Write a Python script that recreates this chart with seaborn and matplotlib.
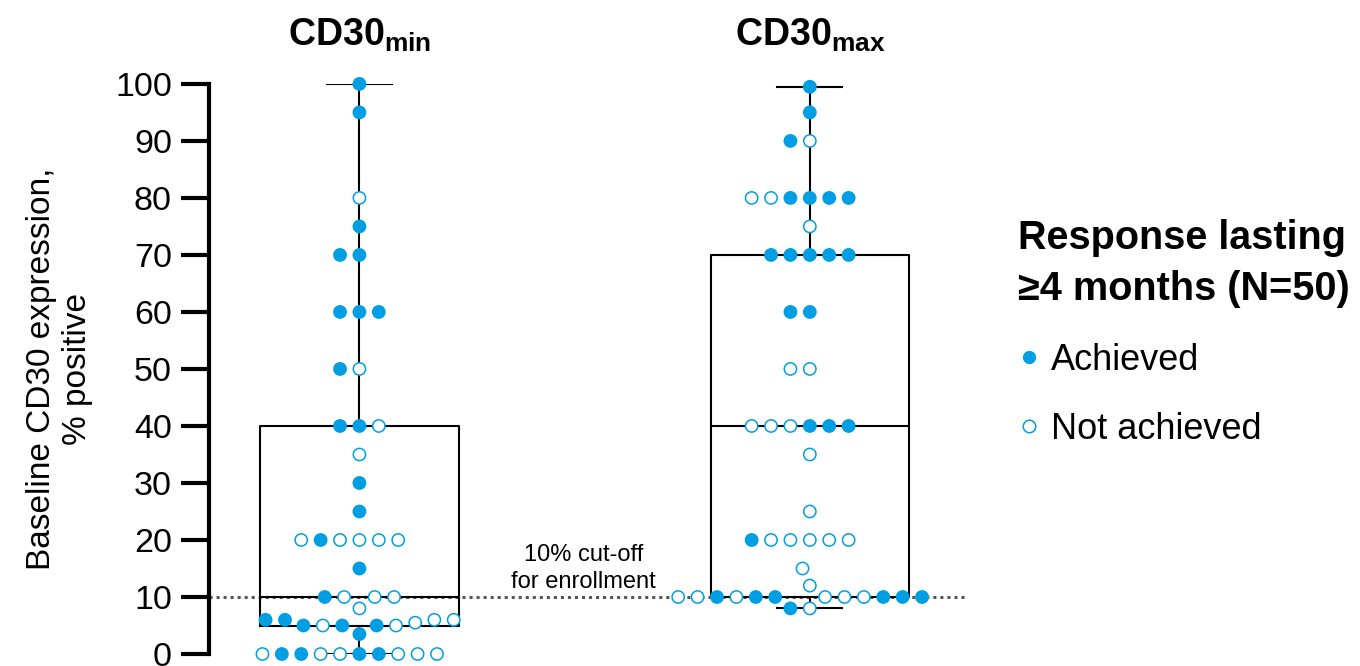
import pandas as pd
import matplotlib.pyplot as plt
from matplotlib.lines import Line2D
import seaborn as sns

# % CD30-positive cells per patient, and whether the response lasted >=4 months (1 = achieved)
min_pct = [100, 95, 80, 75, 70, 70, 60, 60, 60, 50, 50, 40, 40, 40, 35, 30, 25,
           20, 20, 20, 20, 20, 20, 15, 10, 10, 10, 10, 8, 6, 6, 6, 6, 5.5, 5, 5, 5, 5, 5,
           3.5, 0, 0, 0, 0, 0, 0, 0, 0, 0, 0]
min_achieved = [1, 1, 0, 1, 1, 1, 1, 1, 1, 0, 1, 1, 0, 1, 0, 1, 1,
                0, 0, 1, 0, 0, 0, 1, 0, 1, 0, 0, 0, 1, 1, 0, 0, 0, 1, 1, 1, 0, 0,
                1, 1, 0, 1, 0, 0, 1, 0, 0, 0, 1]

max_pct = [99.5, 95, 90, 90, 80, 80, 80, 80, 80, 80, 75, 70, 70, 70, 70, 70,
           60, 60, 50, 50, 40, 40, 40, 40, 40, 40, 35, 25, 20, 20, 20, 20, 20, 20,
           15, 12, 10, 10, 10, 10, 10, 10, 10, 10, 10, 10, 10, 10, 8, 8]
max_achieved = [1, 1, 1, 0, 1, 0, 1, 1, 1, 0, 0, 1, 1, 1, 1, 1,
                1, 1, 0, 0, 0, 1, 1, 0, 0, 1, 0, 0, 0, 0, 0, 0, 1, 0,
                0, 0, 0, 1, 1, 1, 0, 0, 1, 0, 0, 1, 1, 0, 0, 1]

groups = ["CD30min", "CD30max"]
titles = [r"$\mathbf{CD30_{min}}$", r"$\mathbf{CD30_{max}}$"]
status_names = ["Achieved", "Not achieved"]
cutoff = 10

blue = "#009FE3"

df = pd.DataFrame({
    "group": [groups[0]] * len(min_pct) + [groups[1]] * len(max_pct),
    "pct": min_pct + max_pct,
    "status": [status_names[0] if a else status_names[1] for a in min_achieved + max_achieved],
})

plt.rcParams["font.family"] = ["Liberation Sans", "DejaVu Sans"]
plt.rcParams["mathtext.fontset"] = "custom"
plt.rcParams["mathtext.rm"] = "Liberation Sans"
plt.rcParams["mathtext.bf"] = "Liberation Sans:bold"

fig = plt.figure(figsize=(13.6, 6.66), dpi=100)
ax = fig.add_axes([0.154, 0.018, 0.563, 0.856])

sns.boxplot(data=df, x="group", y="pct", order=groups, whis=(0, 100), width=0.44,
            fill=False, color="black", linewidth=1.5, showfliers=False,
            capwidths=0.145, ax=ax)

# lay out the swarm with a larger marker so points sit apart, then shrink them
sns.swarmplot(data=df, x="group", y="pct", order=groups, hue="status",
              hue_order=status_names, palette={status_names[0]: blue, status_names[1]: "white"},
              size=12.2, edgecolor=blue, linewidth=1.1, legend=False, ax=ax, zorder=3)
ax.set_ylim(0, 100)
ax.set_xlim(-0.333, 1.367)
fig.canvas.draw()
for coll in ax.collections:
    if "draw" in coll.__dict__:
        del coll.draw
        coll.set_sizes([78])
    coll.set_clip_on(False)

ax.axhline(cutoff, color="#555555", linestyle=(0, (1, 1.3)), linewidth=2.2, zorder=1,
           xmax=0.99)
ax.text(0.497, 15.0, "10% cut-off\nfor enrollment", ha="center", va="center",
        fontsize=17, linespacing=1.35)

for i, t in enumerate(titles):
    ax.text(i, 1.086, t, transform=ax.get_xaxis_transform(), ha="center", va="center",
            fontsize=27)

sns.despine(ax=ax, bottom=True)
ax.spines["left"].set_linewidth(3)
ax.set_xticks([])
ax.set_xlabel("")
ax.set_yticks(range(0, 101, 10))
ax.tick_params(axis="y", length=20, width=3, labelsize=24.5, pad=7)
ax.set_ylabel("Baseline CD30 expression,\n% positive", fontsize=24, labelpad=16,
              linespacing=1.2)

handles = [
    Line2D([], [], marker="o", linestyle="", markersize=8.5, color=blue),
    Line2D([], [], marker="o", linestyle="", markersize=9, markerfacecolor="white",
           markeredgecolor=blue, markeredgewidth=1.1),
]
leg = fig.legend(handles, status_names, loc="upper left", bbox_to_anchor=(0.725, 0.72),
                 frameon=False, fontsize=26, title="Response lasting\n≥4 months (N=50)",
                 title_fontproperties={"weight": "bold", "size": 28.5}, alignment="left",
                 handlelength=0.6, handletextpad=0.3, labelspacing=0.95)
leg.get_title().set_linespacing(1.45)

fig.savefig("out.png", dpi=100)
